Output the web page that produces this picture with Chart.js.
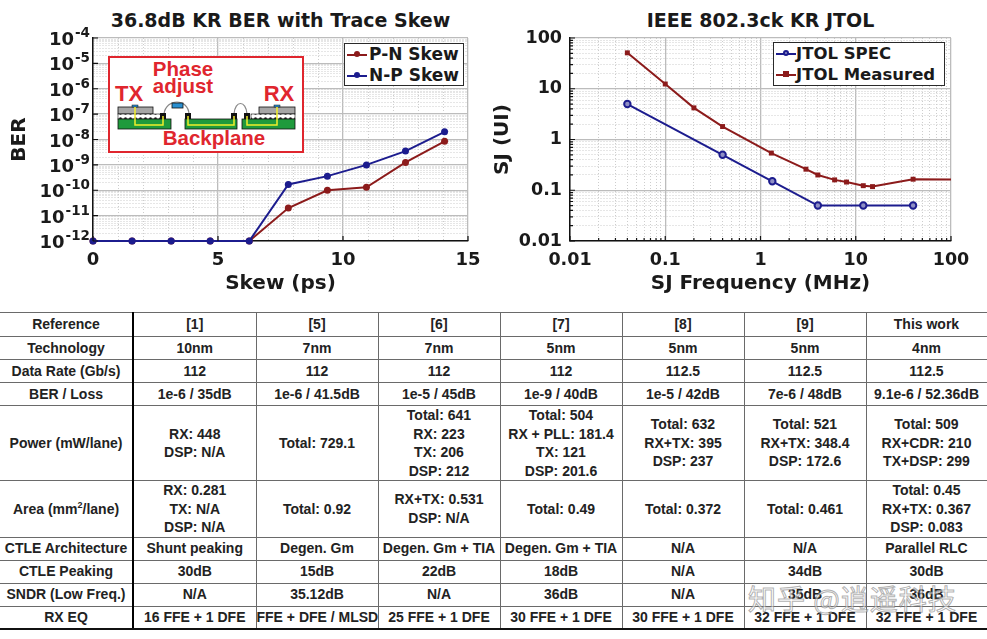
<!DOCTYPE html>
<html>
<head>
<meta charset="utf-8">
<script src="https://cdn.jsdelivr.net/npm/chart.js@4.4.0/dist/chart.umd.min.js"></script>
<style>
  html, body { margin: 0; padding: 0; background: #fff; }
  body { width: 987px; height: 639px; position: relative; overflow: hidden; font-family: "DejaVu Sans", sans-serif; }
  .chart-box { position: absolute; top: 0; height: 300px; }
  .chart-title { position: absolute; top: 9px; font-weight: bold; font-size: 19px; color: #1a1a1a; text-align: center; white-space: nowrap; }
  .legend { position: absolute; background: #fff; border: 1.5px solid #2a2a2a; box-sizing: border-box; font-weight: bold; color: #1a1a1a; }
  .legend .row { position: absolute; left: 0; height: 21px; line-height: 21px; white-space: nowrap; }
  .legend .sample { position: absolute; top: 10px; height: 2px; }
  .legend .mark { position: absolute; top: -3px; left: 7px; width: 6px; height: 6px; box-sizing: border-box; }
  .legend .txt { position: absolute; top: 0; }
  .inset { position: absolute; left: 108px; top: 56px; width: 196px; height: 97px; }
  table.cmp { position: absolute; left: 0; top: 312px; width: 987px; border-collapse: collapse; table-layout: fixed;
    font-family: "Liberation Sans", Arial, sans-serif; font-weight: bold; font-size: 14px; color: #222; }
  table.cmp td { border: 1.5px solid #6a6a6a; text-align: center; vertical-align: middle; padding: 0; line-height: 18.5px; white-space: nowrap; }
  table.cmp td:first-child { border-left: none; border-right: 2px solid #000; }
  table.cmp tr:last-child td { border-bottom: 2.5px solid #111; }
  .wm { position: absolute; left: 748px; top: 578px; font-family: "Noto Sans CJK SC", sans-serif; font-size: 28px; color: rgba(255,255,255,0.55);
    -webkit-text-stroke: 1px rgba(110,110,110,0.55); white-space: nowrap; letter-spacing: 1px; }
</style>
</head>
<body>

<div class="chart-title" style="left:93px;width:375px;">36.8dB KR BER with Trace Skew</div>
<div class="chart-title" style="left:570px;width:381px;">IEEE 802.3ck KR JTOL</div>

<div class="chart-box" style="left:0;width:490px;"><canvas id="berChart"></canvas></div>
<div class="chart-box" style="left:490px;width:497px;"><canvas id="jtolChart"></canvas></div>

<div class="inset">
  <svg width="196" height="97" viewBox="0 0 196 97" xmlns="http://www.w3.org/2000/svg">
    <defs>
      <pattern id="balls" x="0" y="0" width="5" height="5" patternUnits="userSpaceOnUse">
        <rect width="5" height="5" fill="#fff"/>
        <circle cx="2.5" cy="2.5" r="1.3" fill="#222"/>
      </pattern>
    </defs>
    <rect x="1" y="1" width="194" height="95" fill="#fff" stroke="#e0262e" stroke-width="2"/>
    <g font-family="Liberation Sans, Arial, sans-serif" font-weight="bold" fill="#e0262e" text-anchor="middle">
      <text x="75" y="20" font-size="20.5">Phase</text>
      <text x="75" y="37" font-size="20.5">adjust</text>
      <text x="21" y="45" font-size="22">TX</text>
      <text x="171" y="45" font-size="22">RX</text>
      <text x="106" y="89" font-size="20.5">Backplane</text>
    </g>
    <!-- wires -->
    <path d="M56 58 C 58 42, 80 42, 81 58" fill="none" stroke="#888" stroke-width="1.2"/>
    <path d="M126 58 C 127 44, 138 44, 139 58" fill="none" stroke="#888" stroke-width="1.2"/>
    <rect x="64" y="47" width="11" height="5" fill="#2a8fd0" stroke="#111" stroke-width="0.8"/>
    <!-- TX package -->
    <rect x="10" y="51" width="35" height="7" fill="#a6a6a6" stroke="#111" stroke-width="0.8"/>
    <rect x="24" y="49" width="6" height="2" fill="#2a8fd0" stroke="#111" stroke-width="0.5"/>
    <rect x="10" y="58" width="44" height="5" fill="url(#balls)" stroke="#111" stroke-width="0.6"/>
    <rect x="10" y="63" width="53" height="10" fill="#1f9a3c" stroke="#111" stroke-width="0.8"/>
    <rect x="52" y="57" width="6" height="6" fill="#111"/>
    <polyline points="27,51 27,69 55,69 55,60" fill="none" stroke="#f2ef2a" stroke-width="1.5"/>
    <!-- backplane -->
    <rect x="77" y="63" width="52" height="10" fill="#1f9a3c" stroke="#111" stroke-width="0.8"/>
    <rect x="77" y="57" width="6" height="6" fill="#111"/>
    <rect x="123" y="57" width="6" height="6" fill="#111"/>
    <polyline points="80,60 80,69 126,69 126,60" fill="none" stroke="#f2ef2a" stroke-width="1.5"/>
    <!-- RX package -->
    <rect x="151" y="51" width="36" height="7" fill="#a6a6a6" stroke="#111" stroke-width="0.8"/>
    <rect x="166" y="49" width="6" height="2" fill="#2a8fd0" stroke="#111" stroke-width="0.5"/>
    <rect x="143" y="58" width="44" height="5" fill="url(#balls)" stroke="#111" stroke-width="0.6"/>
    <rect x="134" y="63" width="53" height="10" fill="#1f9a3c" stroke="#111" stroke-width="0.8"/>
    <rect x="136" y="57" width="6" height="6" fill="#111"/>
    <polyline points="139,60 139,69 169,69 169,51" fill="none" stroke="#f2ef2a" stroke-width="1.5"/>
  </svg>
</div>

<div class="legend" id="berLegend" style="left:344px;top:43px;width:120px;height:43px;font-size:17px;"></div>
<div class="legend" id="jtolLegend" style="left:773px;top:42px;width:172px;height:44px;font-size:16.5px;"></div>

<table class="cmp">
  <colgroup>
    <col style="width:133px"><col style="width:123px"><col style="width:122px"><col style="width:122px">
    <col style="width:122px"><col style="width:122px"><col style="width:122px"><col style="width:121px">
  </colgroup>
  <tr style="height:24px"><td>Reference</td><td>[1]</td><td>[5]</td><td>[6]</td><td>[7]</td><td>[8]</td><td>[9]</td><td>This work</td></tr>
  <tr style="height:23px"><td>Technology</td><td>10nm</td><td>7nm</td><td>7nm</td><td>5nm</td><td>5nm</td><td>5nm</td><td>4nm</td></tr>
  <tr style="height:23px"><td>Data Rate (Gb/s)</td><td>112</td><td>112</td><td>112</td><td>112</td><td>112.5</td><td>112.5</td><td>112.5</td></tr>
  <tr style="height:23px"><td>BER / Loss</td><td>1e-6 / 35dB</td><td>1e-6 / 41.5dB</td><td>1e-5 / 45dB</td><td>1e-9 / 40dB</td><td>1e-5 / 42dB</td><td>7e-6 / 48dB</td><td>9.1e-6 / 52.36dB</td></tr>
  <tr style="height:72px"><td>Power (mW/lane)</td><td>RX: 448<br>DSP: N/A</td><td>Total: 729.1</td><td>Total: 641<br>RX: 223<br>TX: 206<br>DSP: 212</td><td>Total: 504<br>RX + PLL: 181.4<br>TX: 121<br>DSP: 201.6</td><td>Total: 632<br>RX+TX: 395<br>DSP: 237</td><td>Total: 521<br>RX+TX: 348.4<br>DSP: 172.6</td><td>Total: 509<br>RX+CDR: 210<br>TX+DSP: 299</td></tr>
  <tr style="height:55px"><td>Area (mm<sup style="font-size:9px;line-height:0">2</sup>/lane)</td><td>RX: 0.281<br>TX: N/A<br>DSP: N/A</td><td>Total: 0.92</td><td>RX+TX: 0.531<br>DSP: N/A</td><td>Total: 0.49</td><td>Total: 0.372</td><td>Total: 0.461</td><td>Total: 0.45<br>RX+TX: 0.367<br>DSP: 0.083</td></tr>
  <tr style="height:23px"><td>CTLE Architecture</td><td>Shunt peaking</td><td>Degen. Gm</td><td>Degen. Gm + TIA</td><td>Degen. Gm + TIA</td><td>N/A</td><td>N/A</td><td>Parallel RLC</td></tr>
  <tr style="height:23px"><td>CTLE Peaking</td><td>30dB</td><td>15dB</td><td>22dB</td><td>18dB</td><td>N/A</td><td>34dB</td><td>30dB</td></tr>
  <tr style="height:23px"><td>SNDR (Low Freq.)</td><td>N/A</td><td>35.12dB</td><td>N/A</td><td>36dB</td><td>N/A</td><td>35dB</td><td>36dB</td></tr>
  <tr style="height:23px"><td>RX EQ</td><td>16 FFE + 1 DFE</td><td>FFE + DFE / MLSD</td><td>25 FFE + 1 DFE</td><td>30 FFE + 1 DFE</td><td>30 FFE + 1 DFE</td><td>32 FFE + 1 DFE</td><td>32 FFE + 1 DFE</td></tr>
</table>

<div class="wm">知乎 @逍遥科技</div>

<script>
// BER vs trace skew
var skewPs = [0, 1.5625, 3.125, 4.6875, 6.25, 7.8125, 9.375, 10.9375, 12.5, 14.0625];
var berPN = [1e-12, 1e-12, 1e-12, 1e-12, 1e-12, 2e-11, 1e-10, 1.3e-10, 1.25e-9, 8.5e-9];
var berNP = [1e-12, 1e-12, 1e-12, 1e-12, 1e-12, 1.7e-10, 3.6e-10, 1e-9, 3.5e-9, 2e-8];
var skewTickLabels = [0, 5, 10, 15];
var berExponents = [-12, -11, -10, -9, -8, -7, -6, -5, -4];
var berTickBase = "10";

// JTOL
var specFreq = [0.04, 0.4, 1.33, 4, 12, 40];
var specSJ = [5, 0.5, 0.15, 0.05, 0.05, 0.05];
var measFreq = [0.04, 0.1, 0.2, 0.4, 1.3, 3, 4, 6, 8, 12, 15, 40, 100];
var measSJ = [51, 12.4, 4.2, 1.8, 0.54, 0.26, 0.2, 0.16, 0.145, 0.123, 0.118, 0.165, 0.163];
var jtolExponents = [-2, -1, 0, 1, 2];
var jtolTickLabels = ["0.01", "0.1", "1", "10", "100"];

var RED = "#8c1b1b";
var BLUE = "#1c1c8e";

Chart.defaults.font.family = "DejaVu Sans";
Chart.defaults.font.weight = "bold";
Chart.defaults.color = "#1a1a1a";

function toXY(xs, ys) {
  return xs.map(function (x, i) { return { x: x, y: ys[i] }; });
}

// decade ticks plus 2..9 minor ticks, for the grid
function logTicks(minExp, maxExp) {
  var t = [];
  for (var e = minExp; e < maxExp; e++) {
    for (var m = 1; m < 10; m++) t.push({ value: m * Math.pow(10, e), isMajor: m === 1 });
  }
  t.push({ value: Math.pow(10, maxExp), isMajor: true });
  return t;
}

function decadeLabel(exps, labels) {
  return function (value, index, ticks) {
    if (!ticks[index].isMajor) return "";
    return labels[exps.indexOf(Math.round(Math.log10(value)))];
  };
}

var gridColor = function (c) { return c.tick && c.tick.isMajor ? "#bcbcbc" : "#cdcdcd"; };
var gridWidth = function (c) { return c.tick && c.tick.isMajor ? 1.3 : 1; };
var gridDash = function (c) { return c.tick && !c.tick.isMajor ? [1, 2] : []; };

// MATLAB style ticks pointing into the plot
var innerTicks = {
  id: "innerTicks",
  afterDraw: function (chart, args, opts) {
    var ctx = chart.ctx, a = chart.chartArea, sx = chart.scales.x, sy = chart.scales.y;
    ctx.save();
    ctx.strokeStyle = "#111";
    ctx.lineWidth = 1.2;
    ctx.beginPath();
    sx.ticks.forEach(function (t) {
      if (!t.isMajor && !opts.minorX) return;
      var px = sx.getPixelForValue(t.value);
      ctx.moveTo(px, a.bottom);
      ctx.lineTo(px, a.bottom - (t.isMajor ? 5 : 3));
    });
    sy.ticks.forEach(function (t) {
      if (!t.isMajor && !opts.minorY) return;
      var py = sy.getPixelForValue(t.value);
      ctx.moveTo(a.left, py);
      ctx.lineTo(a.left + (t.isMajor ? 5 : 3), py);
    });
    ctx.stroke();
    ctx.restore();
  }
};

// power-of-ten labels with a raised exponent, placed on the y scale
var expLabels = {
  id: "expLabels",
  afterDraw: function (chart, args, opts) {
    if (!opts.exponents) return;
    var ctx = chart.ctx, sy = chart.scales.y, right = chart.chartArea.left - 3;
    ctx.save();
    ctx.fillStyle = "#1a1a1a";
    ctx.textAlign = "right";
    ctx.textBaseline = "alphabetic";
    opts.exponents.forEach(function (e) {
      var py = sy.getPixelForValue(Math.pow(10, e));
      var ex = String(e);
      ctx.font = "bold 13.5px 'DejaVu Sans'";
      var w = ctx.measureText(ex).width;
      ctx.fillText(ex, right, py - 1);
      ctx.font = "bold 18px 'DejaVu Sans'";
      ctx.fillText(opts.base, right - w - 1, py + 7);
    });
    ctx.restore();
  }
};

new Chart(document.getElementById("berChart"), {
  type: "line",
  data: {
    datasets: [
      {
        label: "P-N Skew",
        data: toXY(skewPs, berPN),
        borderColor: RED,
        backgroundColor: RED,
        borderWidth: 2,
        pointRadius: 3.5,
        pointBorderWidth: 0,
        clip: false,
        order: 2,
      },
      {
        label: "N-P Skew",
        data: toXY(skewPs, berNP),
        borderColor: BLUE,
        backgroundColor: BLUE,
        borderWidth: 2,
        pointRadius: 3.5,
        pointBorderWidth: 0,
        clip: false,
        order: 1,
      },
    ],
  },
  options: {
    responsive: true,
    maintainAspectRatio: false,
    animation: false,
    layout: { padding: { top: 38, right: 22, left: 0, bottom: 0 } },
    plugins: {
      legend: { display: false },
      tooltip: { enabled: false },
      innerTicks: { minorX: false, minorY: false },
      expLabels: { exponents: berExponents, base: berTickBase },
    },
    scales: {
      x: {
        type: "linear",
        min: 0,
        max: 15,
        afterBuildTicks: function (s) {
          var t = [];
          for (var v = 0; v <= 15; v++) t.push({ value: v, isMajor: skewTickLabels.indexOf(v) >= 0 });
          s.ticks = t;
        },
        afterFit: function (s) { s.height = 59; },
        ticks: {
          autoSkip: false,
          maxRotation: 0,
          padding: 9,
          font: { size: 18 },
          callback: function (v, i, ticks) { return ticks[i].isMajor ? String(v) : ""; },
        },
        grid: { color: gridColor, lineWidth: gridWidth, drawTicks: false },
        border: { color: "#111", width: 1.5, dash: gridDash },
        title: { display: true, text: "Skew (ps)", font: { size: 20 }, padding: { top: 0, bottom: 4 } },
      },
      y: {
        type: "logarithmic",
        min: 1e-12,
        max: 1e-4,
        afterBuildTicks: function (s) { s.ticks = logTicks(-12, -4); },
        afterFit: function (s) { s.width = 93; },
        ticks: { display: false },
        grid: { color: gridColor, lineWidth: gridWidth, drawTicks: false },
        border: { color: "#111", width: 1.5, dash: gridDash },
        title: { display: true, text: "BER", font: { size: 20 }, padding: { top: 8, bottom: 0 } },
      },
    },
  },
  plugins: [innerTicks, expLabels],
});

new Chart(document.getElementById("jtolChart"), {
  type: "line",
  data: {
    datasets: [
      {
        label: "JTOL SPEC",
        data: toXY(specFreq, specSJ),
        borderColor: BLUE,
        backgroundColor: "#ffffff",
        borderWidth: 2,
        pointRadius: 3.2,
        pointBorderWidth: 2,
        pointBorderColor: BLUE,
        pointBackgroundColor: "#8e8ec4",
        clip: false,
      },
      {
        label: "JTOL Measured",
        data: toXY(measFreq, measSJ),
        borderColor: RED,
        backgroundColor: RED,
        borderWidth: 2,
        pointStyle: "rect",
        pointRadius: function (c) { return c.dataIndex === measFreq.length - 1 ? 0 : 3.5; },
        pointBorderWidth: 0,
        clip: false,
      },
    ],
  },
  options: {
    responsive: true,
    maintainAspectRatio: false,
    animation: false,
    layout: { padding: { top: 38, right: 36, left: 0, bottom: 0 } },
    plugins: { legend: { display: false }, tooltip: { enabled: false }, innerTicks: { minorX: true, minorY: true } },
    scales: {
      x: {
        type: "logarithmic",
        min: 0.01,
        max: 100,
        afterBuildTicks: function (s) { s.ticks = logTicks(-2, 2); },
        afterFit: function (s) { s.height = 59; },
        ticks: { autoSkip: false, maxRotation: 0, padding: 9, font: { size: 17.5 }, callback: decadeLabel(jtolExponents, jtolTickLabels) },
        grid: { color: gridColor, lineWidth: gridWidth, drawTicks: false },
        border: { color: "#111", width: 1.5, dash: gridDash },
        title: { display: true, text: "SJ Frequency (MHz)", font: { size: 20 }, padding: { top: 0, bottom: 4 } },
      },
      y: {
        type: "logarithmic",
        min: 0.01,
        max: 100,
        afterBuildTicks: function (s) { s.ticks = logTicks(-2, 2); },
        afterFit: function (s) { s.width = 80; },
        ticks: { autoSkip: false, padding: 8, font: { size: 17.5 }, callback: decadeLabel(jtolExponents, jtolTickLabels) },
        grid: { color: gridColor, lineWidth: gridWidth, drawTicks: false },
        border: { color: "#111", width: 1.5, dash: gridDash },
        title: { display: true, text: "SJ (UI)", font: { size: 20 }, padding: { top: 1, bottom: 0 } },
      },
    },
  },
  plugins: [innerTicks],
});

// legends in MATLAB style boxes
function buildLegend(id, items, sampleLeft, sampleWidth, textLeft) {
  var box = document.getElementById(id);
  items.forEach(function (it, i) {
    var row = document.createElement("div");
    row.className = "row";
    row.style.top = (i * 21) + "px";
    row.innerHTML =
      '<div class="sample" style="left:' + sampleLeft + "px;width:" + sampleWidth + "px;background:" + it.color + '">' +
      '<div class="mark" style="background:' + it.fill + ";border:" + (it.ring ? "2px solid " + it.color : "none") +
      ";border-radius:" + (it.square ? "0" : "50%") + '"></div></div>' +
      '<span class="txt" style="left:' + textLeft + 'px">' + it.label + "</span>";
    box.appendChild(row);
  });
}
buildLegend("berLegend", [
  { label: "P-N Skew", color: RED, fill: RED },
  { label: "N-P Skew", color: BLUE, fill: BLUE },
], 2, 20, 24);
buildLegend("jtolLegend", [
  { label: "JTOL SPEC", color: BLUE, fill: "#8e8ec4", ring: true },
  { label: "JTOL Measured", color: RED, fill: RED, square: true },
], 2, 20, 22);
</script>
</body>
</html>
